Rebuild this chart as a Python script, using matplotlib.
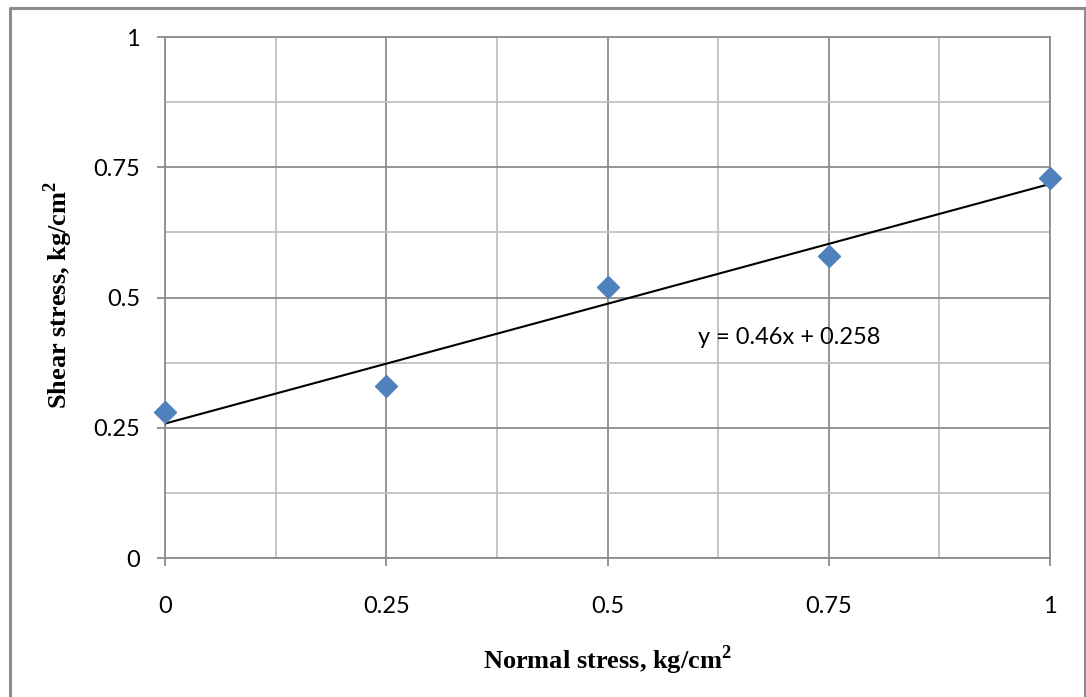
import numpy as np
import matplotlib.pyplot as plt
from matplotlib.lines import Line2D
from matplotlib.ticker import MultipleLocator

normal_stress = [0, 0.25, 0.5, 0.75, 1]
shear_stress = [0.28, 0.33, 0.52, 0.58, 0.73]
tick_vals = [0, 0.25, 0.5, 0.75, 1]
tick_labels = ["0", "0.25", "0.5", "0.75", "1"]

plt.rcParams["mathtext.fontset"] = "custom"
plt.rcParams["mathtext.rm"] = "Liberation Serif"
plt.rcParams["mathtext.bf"] = "Liberation Serif:bold"

# least squares trendline
slope, intercept = np.polyfit(normal_stress, shear_stress, 1)
slope, intercept = round(slope, 3), round(intercept, 3)

fig = plt.figure(figsize=(10.86, 6.97), dpi=100)
ax = fig.add_axes([0.1519, 0.1994, 0.8150, 0.7475])

ax.set_xlim(0, 1)
ax.set_ylim(0, 1)

ax.xaxis.set_minor_locator(MultipleLocator(0.125))
ax.yaxis.set_minor_locator(MultipleLocator(0.125))
ax.grid(which="minor", color="#c0c0c0", linewidth=1.3, zorder=0)
ax.grid(which="major", color="#8c8c8c", linewidth=1.3, zorder=0)
ax.set_axisbelow(True)

for side in ["top", "right", "left", "bottom"]:
    ax.spines[side].set_color("#8c8c8c")
    ax.spines[side].set_linewidth(1.3)

tick_font = "Lato"
ax.set_xticks(tick_vals)
ax.set_xticklabels(tick_labels)
ax.set_yticks(tick_vals)
ax.set_yticklabels(tick_labels)
ax.tick_params(which="major", length=6, width=1.3, color="#8c8c8c",
               labelsize=17)
ax.tick_params(which="minor", length=0)
ax.tick_params(axis="x", pad=21)
ax.tick_params(axis="y", pad=12)
for lab in ax.get_xticklabels() + ax.get_yticklabels():
    lab.set_family(tick_font)

xs = np.array([0, 1])
ax.plot(xs, slope * xs + intercept, color="black", linewidth=1.5, zorder=3)
ax.plot(normal_stress, shear_stress, linestyle="none", marker="D",
        markersize=11.5, color="#4f81bd", markeredgecolor="#4f81bd",
        zorder=4, clip_on=False)

ax.text(0.602, 0.424, f"y = {slope:g}x + {intercept:g}", fontsize=17,
        family=tick_font, va="center", ha="left")

ax.set_xlabel(r"Normal stress, kg/cm$^{\mathbf{2}}$", family="Liberation Serif",
              fontweight="bold", fontsize=19)
ax.set_ylabel(r"Shear stress, kg/cm$^{\mathbf{2}}$", family="Liberation Serif",
              fontweight="bold", fontsize=19)
ax.xaxis.set_label_coords(0.5, -0.163)
ax.yaxis.set_label_coords(-0.1015, 0.505)

# frame around the chart (open at the bottom edge)
frame = dict(color="#8c8c8c", linewidth=2.2, transform=fig.transFigure)
x0, x1, y1 = 9.5 / 1086, 1084.5 / 1086, 1 - 7.5 / 697
fig.lines.append(Line2D([x0, x0, x1, x1], [0, y1, y1, 0], **frame))

fig.savefig("out.png", dpi=100)
